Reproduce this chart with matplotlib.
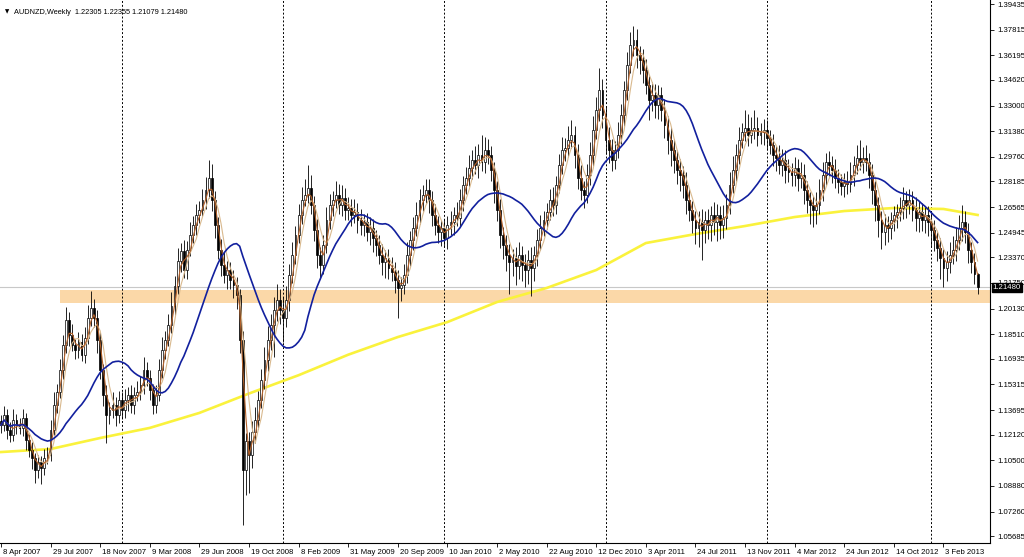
import numpy as np
import pandas as pd
import matplotlib
matplotlib.use("Agg")
import matplotlib.pyplot as plt
import matplotlib.transforms as mtransforms

# weekly closes, AUDNZD, from the week of 8 Apr 2007 on
closes = [
    1.1274, 1.1338, 1.1243, 1.1211, 1.1306, 1.1274, 1.1255, 1.1319, 1.1179, 1.1116, 1.1065, 1.0989, 1.1040, 1.1002, 1.1065, 1.1084,
    1.1243, 1.1401, 1.1484, 1.1623, 1.1782, 1.1940, 1.1845, 1.1782, 1.1750, 1.1801, 1.1718, 1.1826, 1.1953, 1.2016, 1.1953, 1.1813,
    1.1623, 1.1465, 1.1338, 1.1370, 1.1401, 1.1338, 1.1433, 1.1370, 1.1433, 1.1465, 1.1401, 1.1465, 1.1484, 1.1528, 1.1623, 1.1572,
    1.1496, 1.1401, 1.1465, 1.1623, 1.1750, 1.1813, 1.1908, 1.2029, 1.2156, 1.2314, 1.2378, 1.2257, 1.2384, 1.2479, 1.2542, 1.2606,
    1.2637, 1.2701, 1.2764, 1.2840, 1.2701, 1.2542, 1.2384, 1.2289, 1.2226, 1.2257, 1.2194, 1.2162, 1.2099, 1.1813, 1.0990, 1.1173,
    1.1084, 1.1230, 1.1306, 1.1433, 1.1560, 1.1687, 1.1813, 1.1908, 1.2003, 1.2067, 1.2003, 1.1953, 1.2067, 1.2225, 1.2352, 1.2479,
    1.2606, 1.2701, 1.2733, 1.2777, 1.2669, 1.2511, 1.2352, 1.2289, 1.2416, 1.2574, 1.2669, 1.2701, 1.2733, 1.2669, 1.2714, 1.2637,
    1.2650, 1.2606, 1.2625, 1.2574, 1.2542, 1.2561, 1.2498, 1.2523, 1.2460, 1.2416, 1.2352, 1.2308, 1.2333, 1.2270, 1.2245, 1.2194,
    1.2143, 1.2162, 1.2226, 1.2352, 1.2447, 1.2523, 1.2606, 1.2701, 1.2733, 1.2764, 1.2701, 1.2606, 1.2542, 1.2498, 1.2523, 1.2460,
    1.2542, 1.2561, 1.2606, 1.2587, 1.2701, 1.2796, 1.2840, 1.2904, 1.2955, 1.2923, 1.2986, 1.2942, 1.3018, 1.2986, 1.2891, 1.2764,
    1.2637, 1.2479, 1.2416, 1.2352, 1.2308, 1.2333, 1.2283, 1.2352, 1.2289, 1.2257, 1.2321, 1.2270, 1.2352, 1.2447, 1.2523, 1.2574,
    1.2625, 1.2701, 1.2669, 1.2796, 1.2923, 1.3018, 1.3031, 1.3081, 1.3113, 1.2986, 1.2840, 1.2764, 1.2733, 1.2859, 1.2986, 1.3145,
    1.3271, 1.3398, 1.3239, 1.3081, 1.3018, 1.2955, 1.3018, 1.3113, 1.3240, 1.3398, 1.3557, 1.3684, 1.3715, 1.3620, 1.3589, 1.3525,
    1.3430, 1.3335, 1.3367, 1.3303, 1.3367, 1.3271, 1.3176, 1.3081, 1.3018, 1.2955, 1.2891, 1.2859, 1.2796, 1.2701, 1.2637, 1.2574,
    1.2523, 1.2561, 1.2511, 1.2574, 1.2542, 1.2606, 1.2561, 1.2606, 1.2542, 1.2587, 1.2669, 1.2796, 1.2891, 1.2986, 1.3081, 1.3132,
    1.3157, 1.3113, 1.3145, 1.3157, 1.3113, 1.3132, 1.3145, 1.3094, 1.3050, 1.2986, 1.2967, 1.2923, 1.2955, 1.2891, 1.2878, 1.2859,
    1.2904, 1.2840, 1.2859, 1.2764, 1.2701, 1.2669, 1.2637, 1.2669, 1.2764, 1.2859, 1.2942, 1.2923, 1.2891, 1.2840, 1.2815, 1.2790,
    1.2815, 1.2802, 1.2859, 1.2923, 1.2967, 1.2942, 1.2967, 1.2942, 1.2859, 1.2764, 1.2669, 1.2574, 1.2498, 1.2542, 1.2523, 1.2574,
    1.2606, 1.2625, 1.2650, 1.2701, 1.2669, 1.2701, 1.2637, 1.2587, 1.2625, 1.2574, 1.2606, 1.2561, 1.2511, 1.2447, 1.2397, 1.2333,
    1.2270, 1.2308, 1.2352, 1.2384, 1.2447, 1.2523, 1.2561, 1.2498, 1.2384, 1.2308, 1.22305, 1.2148,
]
first_open = 1.1300

# wick lengths beyond the body, in pips
wick_up = [
    40, 60, 35, 50, 70, 40, 45, 55, 30, 40, 50, 35, 45, 40, 60, 50,
    60, 80, 50, 70, 60, 80, 50, 70, 40, 60, 50, 70, 80, 108, 60, 50,
    50, 40, 60, 50, 80, 50, 60, 50, 70, 50, 60, 50, 70, 60, 80, 50,
    50, 40, 60, 70, 80, 60, 70, 90, 60, 80, 50, 70, 60, 80, 60, 70,
    60, 70, 80, 115, 90, 60, 50, 70, 80, 60, 50, 60, 50, 40, 60, 50,
    60, 70, 80, 60, 70, 80, 90, 70, 80, 100, 70, 80, 90, 70, 80, 60,
    70, 80, 100, 146, 80, 60, 70, 50, 60, 80, 70, 60, 90, 70, 80, 60,
    70, 60, 80, 60, 70, 50, 60, 70, 60, 50, 60, 70, 50, 60, 70, 60,
    60, 50, 70, 80, 60, 70, 80, 70, 60, 70, 70, 60, 70, 60, 50, 60,
    60, 70, 50, 80, 70, 60, 70, 80, 60, 90, 70, 130, 80, 70, 60, 50,
    60, 70, 50, 60, 70, 60, 70, 80, 60, 70, 60, 80, 60, 70, 80, 60,
    60, 70, 80, 60, 70, 80, 60, 90, 95, 60, 70, 80, 60, 70, 80, 90,
    80, 140, 70, 60, 80, 70, 60, 80, 70, 60, 80, 80, 89, 70, 60, 70,
    70, 60, 80, 70, 60, 50, 70, 60, 80, 70, 60, 70, 60, 80, 70, 60,
    60, 70, 80, 60, 70, 60, 80, 70, 60, 80, 70, 80, 90, 70, 80, 60,
    115, 90, 80, 112, 70, 60, 70, 60, 50, 70, 60, 80, 70, 60, 70, 60,
    70, 60, 80, 70, 60, 50, 60, 80, 70, 80, 60, 70, 60, 70, 60, 50,
    60, 70, 80, 60, 80, 114, 70, 80, 60, 70, 60, 50, 60, 70, 60, 50,
    60, 50, 70, 80, 60, 70, 60, 80, 70, 60, 50, 60, 70, 60, 50, 60,
    60, 70, 80, 90, 80, 80, 108, 70, 60, 50, 60, 5,
]
wick_dn = [
    50, 40, 60, 45, 35, 55, 40, 50, 60, 45, 70, 80, 50, 100, 45, 40,
    40, 30, 50, 40, 60, 50, 70, 40, 60, 50, 40, 50, 40, 50, 60, 80,
    60, 70, 180, 60, 50, 70, 50, 60, 50, 70, 50, 60, 40, 50, 60, 50,
    60, 60, 50, 40, 50, 60, 40, 50, 60, 50, 70, 50, 60, 40, 50, 60,
    50, 40, 60, 50, 70, 80, 60, 70, 50, 90, 60, 80, 90, 80, 350, 160,
    240, 80, 70, 60, 50, 60, 70, 60, 200, 70, 90, 150, 60, 70, 50, 60,
    50, 60, 40, 50, 60, 70, 80, 90, 60, 50, 60, 70, 50, 60, 70, 60,
    60, 70, 50, 80, 60, 70, 60, 80, 90, 70, 60, 80, 100, 70, 60, 80,
    190, 80, 60, 50, 70, 60, 50, 60, 70, 50, 80, 70, 60, 70, 90, 60,
    70, 60, 80, 50, 60, 70, 60, 50, 70, 60, 80, 60, 70, 60, 70, 80,
    70, 80, 90, 100, 200, 90, 120, 80, 100, 110, 90, 180, 80, 70, 60, 50,
    60, 50, 70, 60, 50, 60, 70, 60, 50, 80, 70, 60, 80, 50, 60, 70,
    60, 70, 80, 90, 80, 70, 60, 50, 60, 70, 60, 50, 70, 80, 90, 80,
    60, 130, 70, 80, 90, 70, 80, 90, 100, 80, 90, 100, 80, 90, 70, 80,
    100, 120, 190, 80, 90, 100, 80, 120, 90, 80, 70, 60, 50, 70, 60, 50,
    60, 70, 50, 60, 70, 60, 80, 70, 60, 70, 80, 60, 70, 80, 60, 70,
    70, 80, 60, 90, 80, 120, 110, 90, 60, 70, 60, 70, 80, 60, 70, 60,
    70, 60, 50, 70, 60, 50, 70, 60, 80, 90, 100, 110, 109, 80, 90, 70,
    70, 80, 60, 70, 80, 60, 70, 80, 90, 70, 80, 90, 100, 70, 80, 130,
    120, 80, 70, 60, 70, 60, 80, 70, 80, 70, 60, 40,
]

# slow yellow average, read at the week index where it was measured
slow_idx = [0, 16, 32, 48, 64, 80, 96, 112, 128, 144, 160, 176, 192, 208, 224, 240, 256, 272, 288, 304, 315]
slow_val = [1.1103, 1.1122, 1.1192, 1.1256, 1.1351, 1.1474, 1.1590, 1.1720, 1.1832, 1.1927, 1.2054,
            1.2143, 1.2257, 1.2428, 1.2485, 1.2536, 1.2593, 1.2631, 1.2650, 1.2644, 1.2606]

date_labels = ["8 Apr 2007", "29 Jul 2007", "18 Nov 2007", "9 Mar 2008", "29 Jun 2008", "19 Oct 2008",
               "8 Feb 2009", "31 May 2009", "20 Sep 2009", "10 Jan 2010", "2 May 2010", "22 Aug 2010",
               "12 Dec 2010", "3 Apr 2011", "24 Jul 2011", "13 Nov 2011", "4 Mar 2012", "24 Jun 2012",
               "14 Oct 2012", "3 Feb 2013"]
year_starts = [39, 91, 143, 195, 247, 300]   # first weekly bar of 2008..2013

price_ticks = ["1.39435", "1.37815", "1.36195", "1.34620", "1.33000", "1.31380", "1.29760", "1.28185",
               "1.26565", "1.24945", "1.23370", "1.21750", "1.20130", "1.18510", "1.16935", "1.15315",
               "1.13695", "1.12120", "1.10500", "1.08880", "1.07260", "1.05685"]

zone = (1.2048, 1.2130)
last = dict(o=1.22305, h=1.22355, l=1.21079, c=1.21480)

# ---- build OHLC ----
c = np.array(closes)
o = np.array([first_open] + closes[:-1])
h = np.maximum(o, c) + np.array(wick_up) * 1e-4
l = np.minimum(o, c) - np.array(wick_dn) * 1e-4
idx = np.arange(len(c))

s = pd.Series(c)
ma_fast = s.rolling(3, min_periods=1).mean()
ma_mid = s.rolling(5, min_periods=1).mean()
ma_blue = s.rolling(21, min_periods=1).mean()

fig = plt.figure(figsize=(10.24, 5.57), dpi=100)
ax = fig.add_axes([0, 14 / 557, 990 / 1024, 543 / 557])

ax.set_xlim(-0.3, 319.0)
ax.set_ylim(1.05263, 1.39689)

ax.axhspan(zone[0], zone[1], xmin=60 / 990, xmax=1, facecolor="#FBD8A8", edgecolor="none", zorder=0.5)
ax.axhline(last["c"], color="#C8C8C8", lw=0.8, zorder=0.6)
for ys in year_starts:
    ax.axvline(ys, color="black", lw=0.7, linestyle=(0, (2, 2)), zorder=0.7)

ax.plot(slow_idx, slow_val, color="#FAF23C", lw=1.9, zorder=2)

# candles
ax.vlines(idx, l, h, color="black", lw=0.6, zorder=3)
up = c >= o
body = np.abs(c - o)
body = np.where(body < 0.0003, 0.0003, body)
ax.bar(idx[up], body[up], bottom=np.minimum(o, c)[up], width=0.6,
       color="white", edgecolor="black", linewidth=0.5, zorder=4)
ax.bar(idx[~up], body[~up], bottom=np.minimum(o, c)[~up], width=0.6,
       color="black", edgecolor="black", linewidth=0.5, zorder=4)

ax.plot(idx, ma_mid, color="#D9B98E", lw=0.8, zorder=5)
ax.plot(idx, ma_fast, color="#B5622A", lw=0.8, zorder=5)
ax.plot(idx, ma_blue, color="#12209E", lw=1.2, zorder=6)

# axes styling, MT4 look
for side in ["left", "top"]:
    ax.spines[side].set_visible(False)
ax.spines["right"].set_linewidth(0.8)
ax.spines["bottom"].set_linewidth(0.8)

ax.yaxis.tick_right()
ax.set_yticks([float(t) for t in price_ticks])
ax.set_yticklabels(price_ticks)
ax.tick_params(axis="y", direction="out", length=3, width=0.6, pad=2,
               labelsize=5.6, labelfontfamily="Liberation Sans")

ax.set_xticks(np.arange(0, 16 * len(date_labels), 16))
ax.set_xticklabels(date_labels, ha="left")
ax.tick_params(axis="x", direction="out", length=3, width=0.6, pad=1.5,
               labelsize=5.6, labelfontfamily="Liberation Sans")
shift = mtransforms.ScaledTranslation(2 / 100, 0, fig.dpi_scale_trans)
for lab in ax.get_xticklabels():
    lab.set_transform(lab.get_transform() + shift)

ax.annotate("%.5f" % last["c"], xy=(1.0, last["c"]), xycoords=("axes fraction", "data"),
            xytext=(2, 0), textcoords="offset points", va="center", ha="left",
            fontsize=5.6, family="Liberation Sans", color="white", annotation_clip=False,
            bbox=dict(boxstyle="square,pad=0.15", fc="black", ec="black"), zorder=20)

fig.text(5 / 1024, 1 - 12 / 557, "\u25bc", fontsize=4, family="DejaVu Sans", va="center")
fig.text(14 / 1024, 1 - 12 / 557,
         "AUDNZD,Weekly  %.5f %.5f %.5f %.5f" % (last["o"], last["h"], last["l"], last["c"]),
         fontsize=5.3, family="Liberation Sans", va="center")

fig.savefig("out.png", dpi=100, facecolor="white")
